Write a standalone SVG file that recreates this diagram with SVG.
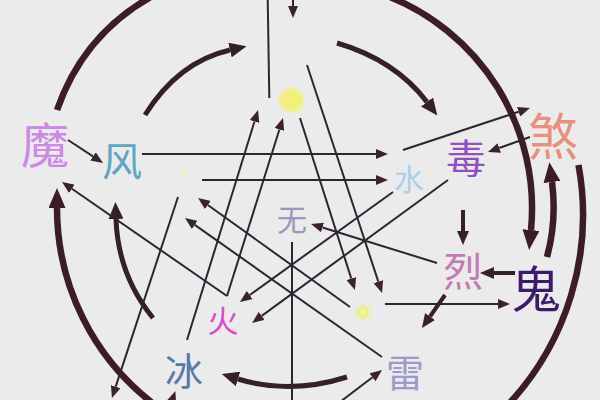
<svg xmlns="http://www.w3.org/2000/svg" width="600" height="400" viewBox="0 0 600 400">
<style>
  .lbl { font-family: "Noto Sans CJK SC", "Noto Sans", sans-serif; text-anchor: middle; dominant-baseline: central; }
  .thin { fill: none; stroke: #2e2533; stroke-width: 2; }
  .mid { fill: none; stroke: #33222e; stroke-width: 4; }
  .arc { fill: none; stroke: #3c1c28; stroke-width: 6.5; stroke-linecap: butt; }
  .arcin { fill: none; stroke: #35202a; stroke-width: 5; stroke-linecap: butt; }
</style>
<defs>
  <marker id="aThin" markerUnits="userSpaceOnUse" markerWidth="12" markerHeight="10" viewBox="0 0 12 10" refX="0" refY="5" orient="auto">
    <path d="M0,0 L12,5 L0,10 z" fill="#3a2231"/>
  </marker>
  <marker id="aMid" markerUnits="userSpaceOnUse" markerWidth="14" markerHeight="12" viewBox="0 0 14 12" refX="0" refY="6" orient="auto">
    <path d="M0,0 L14,6 L0,12 z" fill="#3a1f2d"/>
  </marker>
  <marker id="aIn" markerUnits="userSpaceOnUse" markerWidth="17" markerHeight="15" viewBox="0 0 17 15" refX="0" refY="7.5" orient="auto">
    <path d="M0,0 L17,7.5 L0,15 z" fill="#35202a"/>
  </marker>
  <marker id="aOut" markerUnits="userSpaceOnUse" markerWidth="20" markerHeight="17" viewBox="0 0 20 17" refX="0" refY="8.5" orient="auto">
    <path d="M0,0 L20,8.5 L0,17 z" fill="#3c1c28"/>
  </marker>
  <filter id="soft" x="-50%" y="-50%" width="200%" height="200%">
    <feGaussianBlur stdDeviation="1.4"/>
  </filter>
</defs>
<rect width="600" height="400" fill="#ebebeb"/>

<g id="connectors">
  <!-- outer thick arcs -->
  <path class="arc" d="M57,110 Q85,30 160,-8"/>
  <path class="arc" d="M385,-5 A228 228 0 0 1 531,230" marker-end="url(#aOut)"/>
  <path class="arc" d="M578.5,165 A278 278 0 0 1 505,408"/>
  <path class="arc" d="M547,257 Q557,220 552,182" marker-end="url(#aOut)"/>
  <path class="arc" d="M155,405 A247 247 0 0 1 57,208" marker-end="url(#aOut)"/>
  <!-- inner arcs -->
  <path class="arcin" d="M145,115 Q178,62 230,50" marker-end="url(#aIn)"/>
  <path class="arcin" d="M337,43 Q395,60 427,102" marker-end="url(#aIn)"/>
  <path class="arcin" d="M153,318 Q118,275 116,219" marker-end="url(#aIn)"/>
  <path class="arcin" d="M347,377 Q290,395 238,379" marker-end="url(#aIn)"/>
  <!-- thin lines -->
  <path class="thin" d="M68,140 L93,156.4" marker-end="url(#aThin)"/>
  <path class="thin" d="M267.7,-2 L269.3,98"/>
  <path class="thin" d="M293,-2 L293,6" marker-end="url(#aThin)"/>
  <path class="thin" d="M142,154 L376,154" marker-end="url(#aThin)"/>
  <path class="thin" d="M202,180 L376,180" marker-end="url(#aThin)"/>
  <path class="thin" d="M403,150 L518.6,111.8" marker-end="url(#aThin)"/>
  <path class="thin" d="M530,137 L499.3,148" marker-end="url(#aThin)"/>
  <path class="thin" d="M385,304 L498,304" marker-end="url(#aThin)"/>
  <path class="thin" d="M437,263 L322.5,227.5" marker-end="url(#aThin)"/>
  <path class="thin" d="M187,340 L254.5,121.5" marker-end="url(#aThin)"/>
  <path class="thin" d="M227,296 L279.4,129.5" marker-end="url(#aThin)"/>
  <path class="thin" d="M227,296 L71.9,188.8" marker-end="url(#aThin)"/>
  <path class="thin" d="M178,197 L115.7,386.6" marker-end="url(#aThin)"/>
  <path class="thin" d="M350,307 L207.8,205" marker-end="url(#aThin)"/>
  <path class="thin" d="M382,357 L194.8,224.9" marker-end="url(#aThin)"/>
  <path class="thin" d="M300,118 L351.3,278.6" marker-end="url(#aThin)"/>
  <path class="thin" d="M307,65 L378.3,281.6" marker-end="url(#aThin)"/>
  <path class="thin" d="M393,192 L249.7,295" marker-end="url(#aThin)"/>
  <path class="thin" d="M448,180 L261.7,315.9" marker-end="url(#aThin)"/>
  <path class="thin" d="M292,242 L292,402"/>
  <path class="thin" d="M168,412 L171.4,402.4" marker-end="url(#aThin)"/>
  <path class="thin" d="M340,402 L372.5,377.3" marker-end="url(#aThin)"/>
  <!-- medium short arrows -->
  <path class="mid" d="M463,210 L463,231" marker-end="url(#aMid)"/>
  <path class="mid" d="M515,273 L494,273" marker-end="url(#aMid)"/>
  <path class="mid" d="M445,295 L430,316.5" marker-end="url(#aMid)"/>
</g>

<g id="node-mo"><text class="lbl" x="45" y="142" font-size="48" fill="#cc88e6">魔</text></g>
<g id="node-feng"><text class="lbl" x="122" y="159" font-size="40" fill="#5ea6c6">风</text></g>
<g id="node-du"><text class="lbl" x="466" y="156" font-size="40" fill="#9050c0">毒</text></g>
<g id="node-sha"><text class="lbl" x="553" y="133" font-size="50" fill="#e8907c">煞</text></g>
<g id="node-shui"><text class="lbl" x="409" y="177" font-size="30" fill="#a8d0ec">水</text></g>
<g id="node-wu"><text class="lbl" x="292" y="218" font-size="30" fill="#9a98b8">无</text></g>
<g id="node-lie"><text class="lbl" x="463" y="269" font-size="40" fill="#c47ab5">烈</text></g>
<g id="node-gui"><text class="lbl" x="536" y="286" font-size="50" fill="#3b1a6e">鬼</text></g>
<g id="node-huo"><text class="lbl" x="223" y="318" font-size="31" fill="#e048c8">火</text></g>
<g id="node-bing"><text class="lbl" x="184" y="368" font-size="38" fill="#5878a8">冰</text></g>
<g id="node-lei"><text class="lbl" x="405" y="370" font-size="38" fill="#9c9ac8">雷</text></g>
<g id="node-light">
  <circle cx="291" cy="100" r="12" fill="#f2f07a" filter="url(#soft)"/>
</g>
<g id="node-star">
  <polygon points="363,302 365,309 372,306 367,312 373,317 366,315 364,323 361,315 354,318 359,312 353,306 360,309" fill="#e8f26a" filter="url(#soft)"/>
  <circle cx="363" cy="312" r="2.5" fill="#f6fa9a"/>
</g>
<g id="node-dot">
  <circle cx="183" cy="173" r="2.5" fill="#f2f0c0"/>
</g>
</svg>
